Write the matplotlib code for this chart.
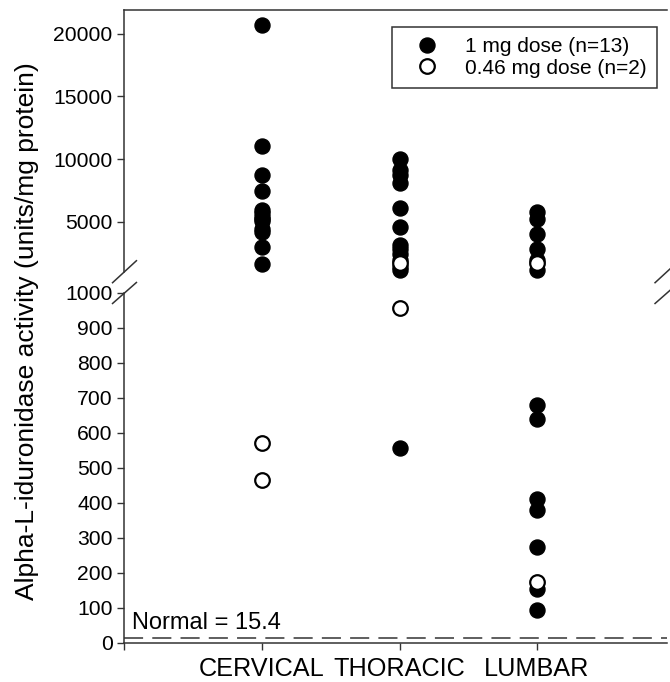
import matplotlib.pyplot as plt

plt.rcParams['font.family'] = ['Liberation Sans', 'DejaVu Sans']

regions = ['CERVICAL', 'THORACIC', 'LUMBAR']

# 1 mg dose (n=13), values per region
full_cervical = [20700, 11050, 8750, 7450, 5900, 5650, 5400, 5200, 5050, 4400, 4150, 3000, 1650]
full_thoracic = [10000, 9100, 8700, 8100, 6100, 4600, 3100, 2800, 2400, 1900, 1400, 1100, 558]
full_lumbar = [5800, 5200, 4000, 2800, 1900, 1100, 680, 640, 410, 380, 275, 153, 94]

# 0.46 mg dose (n=2)
low_cervical = [570, 465]
low_thoracic = [1700, 958]
low_lumbar = [1700, 175]

normal_value = 15.4
lower_ticks = list(range(0, 1001, 100))
upper_ticks = [5000, 10000, 15000, 20000]
break_value = 1000

fig = plt.figure(figsize=(6.7, 6.82), dpi=100)
ax_up = fig.add_axes([0.1858, 0.6016, 0.8097, 0.3837])
ax_lo = fig.add_axes([0.1858, 0.0572, 0.8097, 0.5132])

full = [full_cervical, full_thoracic, full_lumbar]
low = [low_cervical, low_thoracic, low_lumbar]

for ax, upper in ((ax_up, True), (ax_lo, False)):
    for i, (f, l) in enumerate(zip(full, low)):
        fv = [v for v in f if (v >= break_value) == upper]
        lv = [v for v in l if (v >= break_value) == upper]
        ax.plot([i + 1] * len(fv), fv, 'o', color='black', ms=10.8, clip_on=False, zorder=3)
        ax.plot([i + 1] * len(lv), lv, 'o', mfc='white', mec='black', mew=1.6, ms=10.5,
                clip_on=False, zorder=4)
    ax.set_xlim(0, 3.945)
    ax.spines['right'].set_visible(False)
    for s in ax.spines.values():
        s.set_color('#333333')
        s.set_linewidth(1.1)
    ax.tick_params(direction='out', length=5, width=1, color='#333333', labelsize=15.2)

ax_up.set_ylim(1000, 21900)
ax_up.set_yticks(upper_ticks)
ax_up.spines['bottom'].set_visible(False)
ax_up.tick_params(axis='x', bottom=False, labelbottom=False)

ax_lo.set_ylim(0, 1000)
ax_lo.set_yticks(lower_ticks)
ax_lo.spines['top'].set_visible(False)
ax_lo.set_xticks([0, 1, 2, 3])
ax_lo.set_xticklabels([''] + regions, fontsize=18.2)
ax_lo.tick_params(axis='x', pad=5)

# normal level
ax_lo.axhline(normal_value, color='#333333', lw=1.1, dashes=(12.5, 6))
ax_lo.text(0.055, 40, 'Normal = 15.4', fontsize=17, va='baseline', ha='left')

# axis break marks
kw = dict(color='#333333', lw=1.1, clip_on=False)
for x in (0, 1):
    ax_up.plot([x - 0.022, x + 0.022], [-0.042, 0.042], transform=ax_up.transAxes, **kw)
    ax_lo.plot([x - 0.022, x + 0.022], [1 - 0.03, 1 + 0.03], transform=ax_lo.transAxes, **kw)

# legend
h1, = ax_up.plot([], [], 'o', color='black', ms=10.8)
h2, = ax_up.plot([], [], 'o', mfc='white', mec='black', mew=1.6, ms=10.5)
leg = ax_up.legend([h1, h2], ['1 mg dose (n=13)', '0.46 mg dose (n=2)'],
                   loc='upper left', bbox_to_anchor=(0.493, 0.936), borderaxespad=0,
                   fontsize=15, fancybox=False, edgecolor='#333333', framealpha=1,
                   handletextpad=0.6, borderpad=0.5, labelspacing=0.12, handlelength=2.4)
leg.get_frame().set_linewidth(1.1)

fig.text(0.041, 0.515, 'Alpha-L-iduronidase activity (units/mg protein)', rotation=90,
         va='center', ha='center', fontsize=19)

fig.savefig('out.png', dpi=100)
